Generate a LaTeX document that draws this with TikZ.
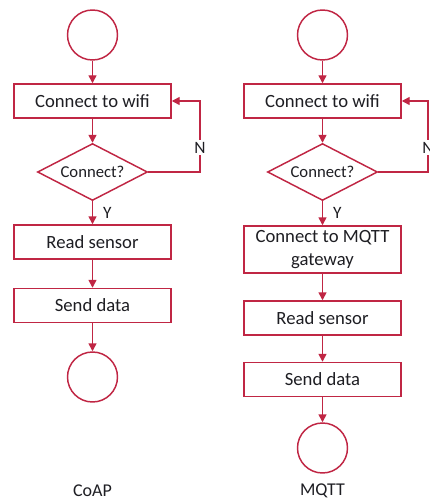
\documentclass[tikz,border=0pt]{standalone}
\usepackage{fontspec}
\setmainfont{Carlito}
\usepackage{tikz}
\usetikzlibrary{shapes.geometric, arrows.meta, positioning, calc}
\definecolor{flowred}{RGB}{192,38,68}
\definecolor{flowtext}{RGB}{30,30,35}

\begin{document}
\begin{tikzpicture}[
    x=0.75pt, y=-0.75pt,
    line width=1.1pt,
    terminal/.style={circle, draw=flowred, fill=white, minimum size=37.5pt, inner sep=0pt},
    process/.style={draw=flowred, fill=white, minimum width=117.75pt, minimum height=25.5pt, inner sep=1pt, align=center, text=flowtext, font=\fontsize{14}{17}\selectfont},
    decision/.style={diamond, aspect=1.93, draw=flowred, fill=white, minimum width=82.5pt, minimum height=42.75pt, inner sep=0pt, text=flowtext, font=\fontsize{12.5}{15}\selectfont},
    caption/.style={text=flowtext, font=\fontsize{13.5}{16}\selectfont},
    arrow/.style={draw=flowred, -{Triangle[length=6pt, width=6pt]}},
    branch/.style={text=flowtext, font=\fontsize{13}{15}\selectfont, inner sep=1.5pt}
]
    \useasboundingbox (0,0) rectangle (429,502);

    % CoAP flow
    \node[terminal] (coapstart) at (92.5,35) {};
    \node[process] (coapwifi) at (92.5,101) {Connect to wifi};
    \node[decision] (coapcheck) at (92.5,172) {Connect?};
    \node[process] (coapread) at (92.5,242) {Read sensor};
    \node[process] (coapsend) at (92.5,305.5) {Send data};
    \node[terminal] (coapend) at (92.5,377) {};
    \node[caption] (coaplabel) at (92.5,491) {CoAP};
    \coordinate (coaploop) at (200,101);

    % MQTT flow
    \node[terminal] (mqttstart) at (322.5,35) {};
    \node[process] (mqttwifi) at (322.5,101) {Connect to wifi};
    \node[decision] (mqttcheck) at (322.5,172) {Connect?};
    \node[process, minimum height=35.25pt] (mqttgate) at (322.5,249.5) {Connect to MQTT\\gateway};
    \node[process] (mqttread) at (322.5,318) {Read sensor};
    \node[process] (mqttsend) at (322.5,379.5) {Send data};
    \node[terminal] (mqttend) at (322.5,448) {};
    \node[caption] (mqttlabel) at (322.5,491) {MQTT};
    \coordinate (mqttloop) at (428,101);

    % CoAP connectors
    \draw[arrow] (coapstart) -- (coapwifi);
    \draw[arrow] (coapwifi) -- (coapcheck);
    \draw[arrow] (coapcheck) -- node[branch, right, xshift=6pt] {Y} (coapread);
    \draw[arrow] (coapread) -- (coapsend);
    \draw[arrow] (coapsend) -- (coapend);
    \draw[arrow] (coapcheck.east) -- (coapcheck.east -| coaploop) -- node[branch, pos=0.34, fill=white] {N} (coaploop) -- (coapwifi.east);

    % MQTT connectors
    \draw[arrow] (mqttstart) -- (mqttwifi);
    \draw[arrow] (mqttwifi) -- (mqttcheck);
    \draw[arrow] (mqttcheck) -- node[branch, right, xshift=6pt] {Y} (mqttgate);
    \draw[arrow] (mqttgate) -- (mqttread);
    \draw[arrow] (mqttread) -- (mqttsend);
    \draw[arrow] (mqttsend) -- (mqttend);
    \draw[arrow] (mqttcheck.east) -- (mqttcheck.east -| mqttloop) -- node[branch, pos=0.34, fill=white] {N} (mqttloop) -- (mqttwifi.east);
\end{tikzpicture}
\end{document}
